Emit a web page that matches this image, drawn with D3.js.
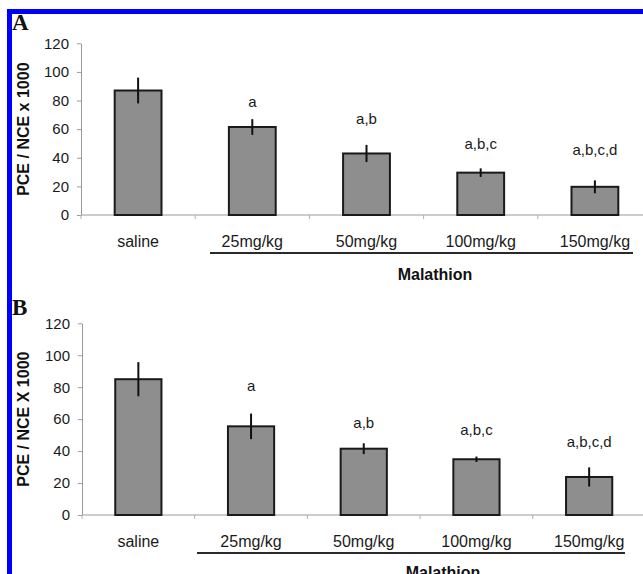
<!DOCTYPE html>
<html>
<head>
<meta charset="utf-8">
<script src="https://cdn.jsdelivr.net/npm/d3@7/dist/d3.min.js"></script>
<style>
  html, body { margin: 0; padding: 0; background: #fff; }
  svg { display: block; }
</style>
</head>
<body>
<script>
// Dose groups along the x axis
const categories = ["saline", "25mg/kg", "50mg/kg", "100mg/kg", "150mg/kg"];
const yTicks = [0, 20, 40, 60, 80, 100, 120];

// Panel A: means and error bars (PCE / NCE x 1000)
const meansA = [87, 61.5, 43, 29.6, 19.7];
const errorsA = [9, 5.5, 6, 3, 4.5];
const lettersA = ["", "a", "a,b", "a,b,c", "a,b,c,d"];
const letterLevelA = [null, 75.7, 63.6, 46.2, 42];

// Panel B: means and error bars (PCE / NCE X 1000)
const meansB = [85, 55.5, 41.5, 34.9, 23.8];
const errorsB = [10.7, 8, 3.4, 1.7, 6];
const lettersB = ["", "a", "a,b", "a,b,c", "a,b,c,d"];
const letterLevelB = [null, 77.6, 54.3, 50.1, 42.4];

const W = 643, H = 574;
const sans = "'Liberation Sans', Arial, sans-serif";
const serif = "'Liberation Serif', 'Times New Roman', serif";

const svg = d3.select("body").append("svg")
  .attr("width", W).attr("height", H);

// Blue frame (top and left edges)
svg.append("rect").attr("x", 7).attr("y", 9).attr("width", W - 7).attr("height", 5).attr("fill", "#0000ff");
svg.append("rect").attr("x", 7).attr("y", 9).attr("width", 5).attr("height", H - 9).attr("fill", "#0000ff");

function panel(cfg) {
  const g = svg.append("g");
  const x = d3.scaleBand().domain(categories)
    .range([cfg.x0, cfg.x1]).paddingInner(0.59).paddingOuter(0.295);
  const y = d3.scaleLinear().domain([0, 120]).range([cfg.yBottom, cfg.yTop]);
  const cx = d => x(d) + x.bandwidth() / 2;

  // y axis
  const ya = g.append("g").attr("transform", `translate(${cfg.x0},0)`)
    .call(d3.axisLeft(y).tickValues(yTicks).tickSize(4).tickSizeOuter(0).tickPadding(8));
  ya.select(".domain").attr("stroke", "#9a9a9a");
  ya.selectAll(".tick line").attr("stroke", "#9a9a9a");
  ya.selectAll(".tick text").attr("font-family", sans).attr("font-size", 15).attr("fill", "#1a1a1a");

  // x axis baseline and category dividers
  g.append("line").attr("x1", cfg.x0).attr("x2", cfg.x1)
    .attr("y1", y(0)).attr("y2", y(0)).attr("stroke", "#9a9a9a");
  const step = x.step();
  g.selectAll(".xdiv").data(d3.range(categories.length + 1)).join("line")
    .attr("x1", i => cfg.x0 + i * step).attr("x2", i => cfg.x0 + i * step)
    .attr("y1", y(0)).attr("y2", y(0) + 4).attr("stroke", "#b0b0b0");

  g.selectAll(".xlab").data(categories).join("text")
    .attr("x", d => cx(d)).attr("y", y(0) + 31.7)
    .attr("text-anchor", "middle").attr("font-family", sans).attr("font-size", 16)
    .attr("fill", "#1a1a1a").text(d => d);

  // bars
  g.selectAll(".bar").data(categories).join("rect")
    .attr("x", d => x(d)).attr("width", x.bandwidth())
    .attr("y", (d, i) => y(cfg.means[i]))
    .attr("height", (d, i) => y(0) - y(cfg.means[i]))
    .attr("fill", "#8e8e8e").attr("stroke", "#1a1a1a").attr("stroke-width", 2);

  // error bars
  g.selectAll(".err").data(categories).join("line")
    .attr("x1", d => cx(d)).attr("x2", d => cx(d))
    .attr("y1", (d, i) => y(cfg.means[i] + cfg.errors[i]))
    .attr("y2", (d, i) => y(cfg.means[i] - cfg.errors[i]))
    .attr("stroke", "#111").attr("stroke-width", 2);

  // significance letters
  g.selectAll(".sig").data(categories).join("text")
    .attr("x", d => cx(d))
    .attr("y", (d, i) => cfg.levels[i] == null ? 0 : y(cfg.levels[i]))
    .attr("text-anchor", "middle").attr("font-family", sans).attr("font-size", 15)
    .attr("fill", "#1a1a1a").text((d, i) => cfg.letters[i]);

  // y axis title
  const ymid = (cfg.yTop + cfg.yBottom) / 2;
  g.append("text")
    .attr("transform", `translate(28.5,${ymid}) rotate(-90)`)
    .attr("text-anchor", "middle").attr("font-family", sans).attr("font-size", 16)
    .attr("font-weight", "bold").attr("fill", "#111").text(cfg.ylabel);

  // panel letter
  g.append("text").attr("x", 12).attr("y", cfg.letterY)
    .attr("font-family", serif).attr("font-size", 23).attr("font-weight", "bold")
    .attr("fill", "#111").text(cfg.panel);

  // bracket under the malathion doses
  g.append("line").attr("x1", cfg.line[0]).attr("x2", cfg.line[1])
    .attr("y1", cfg.lineY).attr("y2", cfg.lineY)
    .attr("stroke", "#2a2a2a").attr("stroke-width", 2);
  g.append("text").attr("x", cfg.groupX).attr("y", cfg.lineY + cfg.groupDy)
    .attr("text-anchor", "middle").attr("font-family", sans).attr("font-size", 16)
    .attr("font-weight", "bold").attr("fill", "#111").text("Malathion");
}

panel({
  panel: "A", letterY: 30, ylabel: "PCE / NCE x 1000",
  means: meansA, errors: errorsA, letters: lettersA, levels: letterLevelA,
  x0: 81, x1: 652, yTop: 43.3, yBottom: 215,
  line: [210, 633], lineY: 253, groupX: 435, groupDy: 27
});

panel({
  panel: "B", letterY: 315, ylabel: "PCE / NCE X 1000",
  means: meansB, errors: errorsB, letters: lettersB, levels: letterLevelB,
  x0: 82, x1: 645.5, yTop: 323.3, yBottom: 515,
  line: [197, 625], lineY: 553, groupX: 443, groupDy: 25
});
</script>
</body>
</html>
